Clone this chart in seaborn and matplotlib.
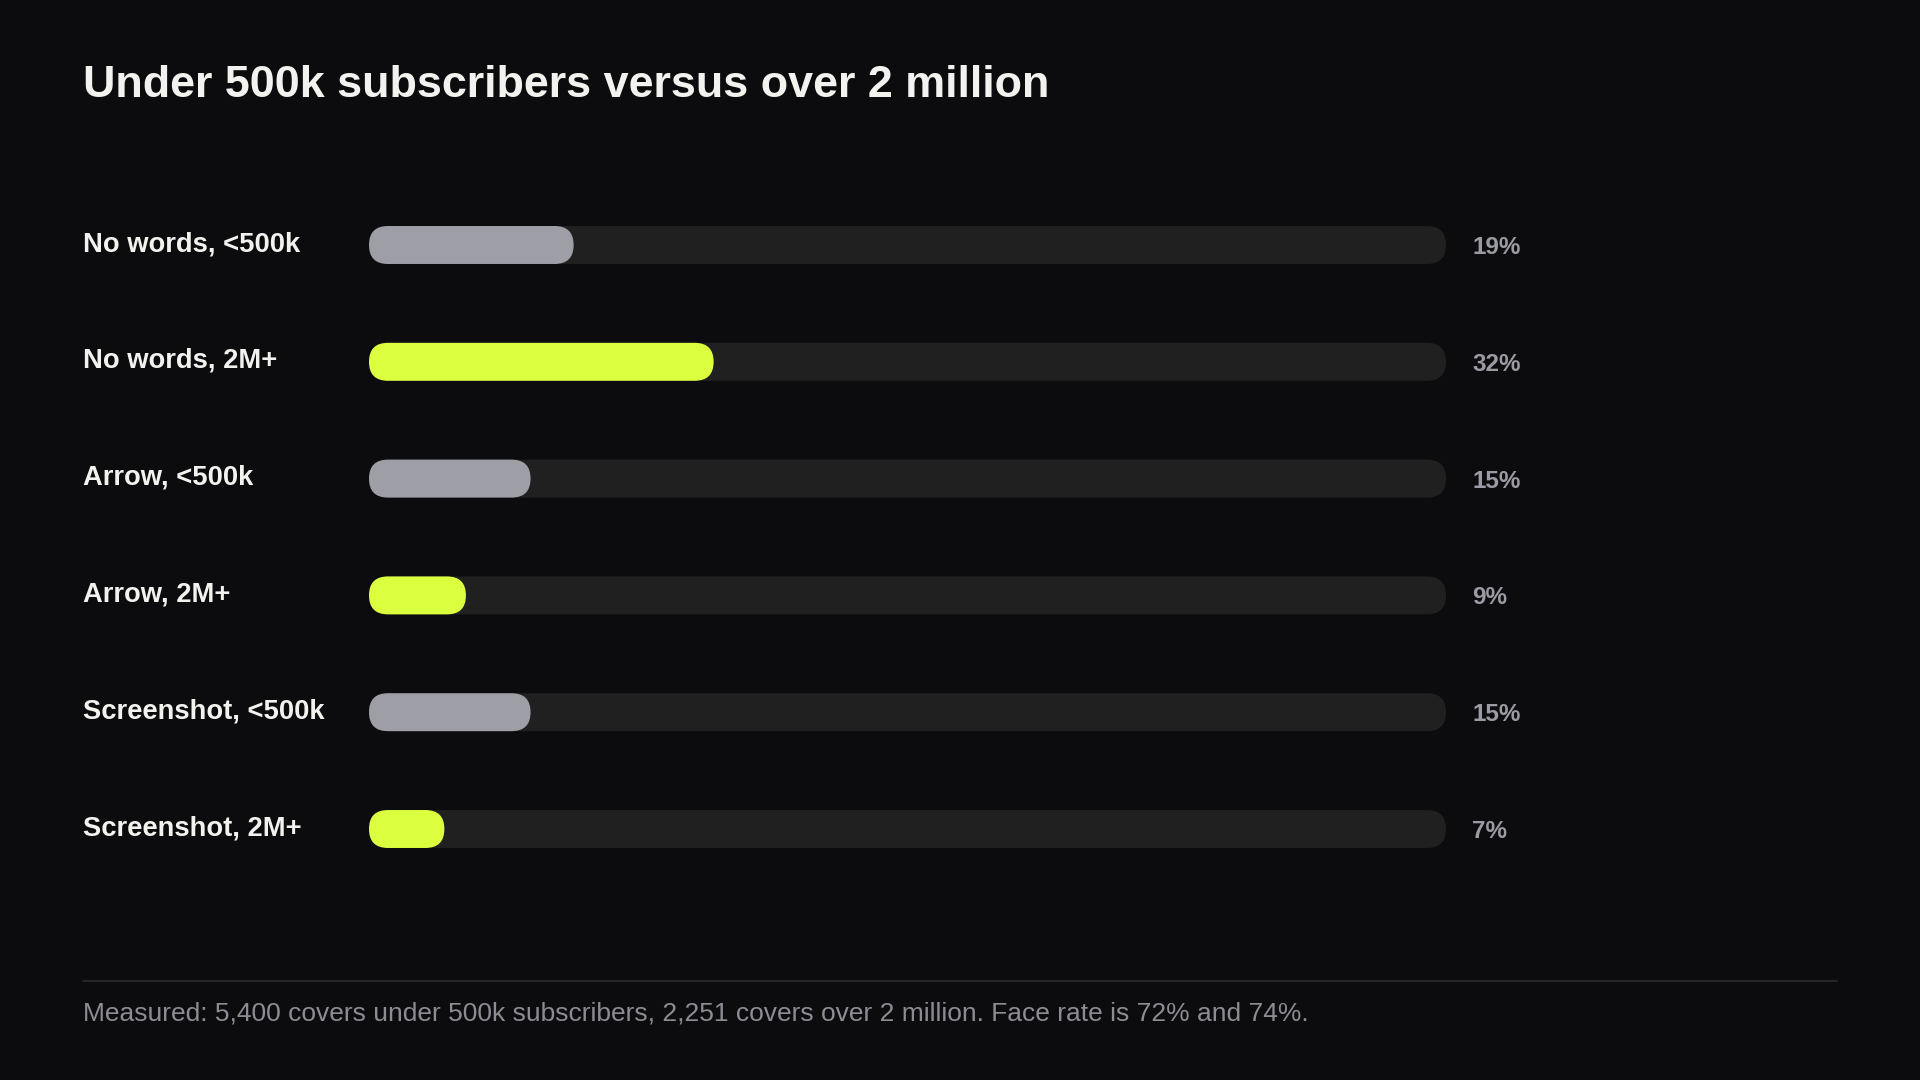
import matplotlib
matplotlib.use("Agg")
import matplotlib.pyplot as plt
import seaborn as sns
import pandas as pd
from matplotlib.patches import FancyBboxPatch
from matplotlib.transforms import blended_transform_factory

# data
labels = ["No words, <500k", "No words, 2M+", "Arrow, <500k", "Arrow, 2M+",
          "Screenshot, <500k", "Screenshot, 2M+"]
groups = ["<500k", "2M+", "<500k", "2M+", "<500k", "2M+"]
values = [19, 32, 15, 9, 15, 7]
track = [100] * 6

title = "Under 500k subscribers versus over 2 million"
footer = ("Measured: 5,400 covers under 500k subscribers, 2,251 covers over 2 million. "
          "Face rate is 72% and 74%.")

# colours
bg = "#0c0c0e"
track_col = "#202021"
palette = {"<500k": "#9e9ea7", "2M+": "#dbff3f"}

df = pd.DataFrame({"label": labels, "group": groups, "value": values, "track": track})

sns.set_theme(style="white")
plt.rcParams["font.family"] = ["Liberation Sans", "DejaVu Sans"]

W, H = 1920, 1080
fig = plt.figure(figsize=(19.2, 10.8), dpi=100, facecolor=bg)

# axes placed in pixels: bars from x=369 to 1446, rows centred 244..829
left, right = 369, 1446
top, bottom = 186.6, 887.4
ax = fig.add_axes([left / W, 1 - bottom / H, (right - left) / W, (bottom - top) / H])
ax.set_facecolor(bg)

bar_h = 0.325
sns.barplot(data=df, x="track", y="label", color=track_col, width=bar_h,
            saturation=1, ax=ax)
sns.barplot(data=df, x="value", y="label", hue="group", palette=palette,
            dodge=False, width=bar_h, saturation=1, legend=False, ax=ax)

ax.set_xlim(0, 100)
ax.set_ylim(5.5, -0.5)
ax.set_axis_off()

# swap the plain rectangles for pill shapes
fig.canvas.draw()
bb = ax.get_window_extent()
px_x = bb.width / 100
px_y = bb.height / 6
aspect = px_x / px_y
rad = bar_h / aspect / 2

rects = [p for p in ax.patches if p.get_width() > 0]
for p in rects:
    x, y = p.get_x(), p.get_y()
    w, h = p.get_width(), p.get_height()
    pill = FancyBboxPatch((x, y), w, h,
                          boxstyle=f"round,pad=0,rounding_size={rad}",
                          mutation_aspect=aspect,
                          facecolor=p.get_facecolor(), edgecolor="none",
                          zorder=2 if w < 100 else 1)
    p.remove()
    ax.add_patch(pill)

# text
trans = blended_transform_factory(fig.transFigure, ax.transData)
lab_off = 6 / px_y
val_off = 9 / px_y
for i, (lab, v) in enumerate(zip(labels, values)):
    ax.text(83 / W, i + lab_off, lab, transform=trans, ha="left", va="baseline",
            fontsize=19.7, fontweight="bold", color="#f2f2ef")
    ax.text(1472 / W, i + val_off, f"{v}%", transform=trans, ha="left", va="baseline",
            fontsize=17.5, fontweight="bold", color="#9b9ba3")

fig.text(83 / W, 1 - 97 / H, title, ha="left", va="baseline",
         fontsize=32.3, fontweight="bold", color="#f2f2ef")

fig.add_artist(plt.Line2D([83 / W, 1837 / W], [1 - 981 / H, 1 - 981 / H],
                          transform=fig.transFigure, color="#252528", lw=1.5))
fig.text(83 / W, 1 - 1020 / H, footer, ha="left", va="baseline",
         fontsize=19, color="#8c8c94")

fig.savefig("out.png", dpi=100, facecolor=bg)
